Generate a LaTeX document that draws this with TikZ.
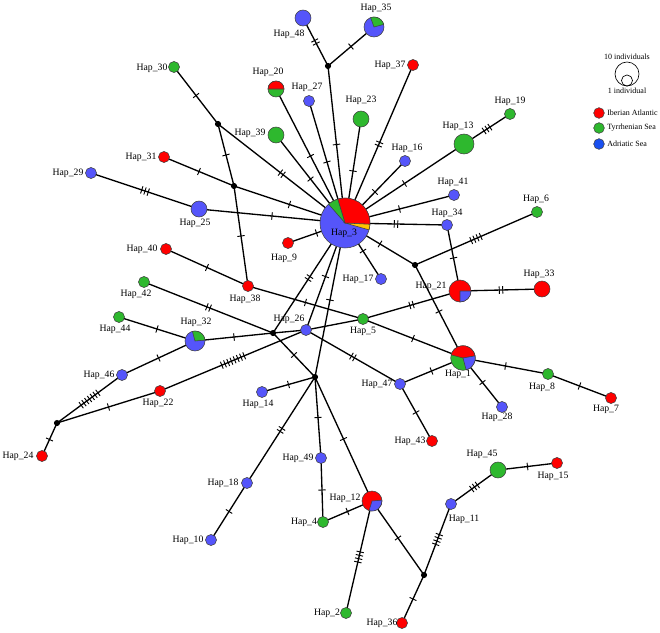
\documentclass[tikz,border=0pt]{standalone}
\usepackage{fontspec}
\setmainfont{Liberation Serif}
\usetikzlibrary{decorations.markings,backgrounds}

\definecolor{hapred}{RGB}{255,0,0}
\definecolor{hapgreen}{RGB}{46,184,46}
\definecolor{hapblue}{RGB}{85,85,250}
\definecolor{hapyellow}{RGB}{255,196,0}
\definecolor{legblue}{RGB}{25,80,240}

\tikzset{
    hap/.style={circle,draw=black!75,line width=0.4pt,inner sep=0pt,minimum size=#1},
    mv/.style={circle,fill=black,inner sep=0pt,minimum size=4.6pt},
    lab/.style={inner sep=0pt,font=\fontsize{7.3}{8}\selectfont},
    leg/.style={inner sep=0pt,font=\fontsize{6}{7}\selectfont},
    link/.style={line width=1pt},
    mut/.style={postaction={decorate,decoration={markings,mark=at position 0.5 with {
        \foreach \k in {1,...,#1}{\draw[line width=0.7pt] ({(\k-(#1+1)/2)*2.6pt},-2.8pt) -- ++(0pt,5.6pt);}}}}}
}

\begin{document}
\begin{tikzpicture}[x=0.75pt,y=-0.75pt,every node/.style={font=\fontsize{7.3}{8}\selectfont}]
\useasboundingbox (0,0) rectangle (660,632);
\def\one{8.3pt}
\def\two{12pt}
\def\three{15pt}

% Macro for haplotype circle and its label
\newcommand{\hapnode}[7]{
    \node[hap=#4,fill=#5] (h#1) at (#2,#3) {};
    \node[lab] (l#1) at (#6,#7) {Hap\_#1};
}
% Macro for one slice of a pie
\newcommand{\hapslice}[5]{
    \fill[#5,draw=black!75,line width=0.4pt] (h#1.center) -- ++(#3:#2) arc[start angle=#3,end angle=#4,radius=#2] -- cycle;
}

% Median vectors
\node[mv] (mv1) at (218,124) {};
\node[mv] (mv2) at (234,186) {};
\node[mv] (mv3) at (328,66) {};
\node[mv] (mv4) at (415,265) {};
\node[mv] (mv5) at (273,333) {};
\node[mv] (mv6) at (315,377) {};
\node[mv] (mv7) at (57,423) {};
\node[mv] (mv8) at (424,575) {};

% Single haplotypes
\hapnode{30}{174}{67}{\one}{hapgreen}{152}{68}
\hapnode{27}{309}{101}{\one}{hapblue}{307}{87}
\hapnode{31}{164}{157}{\one}{hapred}{141}{157}
\hapnode{29}{91}{173}{\one}{hapblue}{68}{173}
\hapnode{9}{288}{243}{\one}{hapred}{284}{258}
\hapnode{40}{166}{249}{\one}{hapred}{142}{249}
\hapnode{38}{248}{286}{\one}{hapred}{245}{299}
\hapnode{42}{144}{282}{\one}{hapgreen}{136}{294}
\hapnode{44}{119}{317}{\one}{hapgreen}{115}{329}
\hapnode{46}{122}{375}{\one}{hapblue}{99}{375}
\hapnode{22}{160}{391}{\one}{hapred}{158}{403}
\hapnode{14}{262}{392}{\one}{hapblue}{258}{404}
\hapnode{24}{42}{456}{\one}{hapred}{18}{456}
\hapnode{49}{321}{458}{\one}{hapblue}{298}{458}
\hapnode{18}{247}{483}{\one}{hapblue}{223}{483}
\hapnode{4}{323}{522}{\one}{hapgreen}{304}{522}
\hapnode{10}{211}{540}{\one}{hapblue}{188}{540}
\hapnode{5}{363}{319}{\one}{hapgreen}{363}{331}
\hapnode{47}{400}{384}{\one}{hapblue}{377}{384}
\hapnode{8}{548}{374}{\one}{hapgreen}{542}{387}
\hapnode{28}{502}{407}{\one}{hapblue}{497}{417}
\hapnode{7}{611}{398}{\one}{hapred}{606}{409}
\hapnode{43}{432}{441}{\one}{hapred}{410}{441}
\hapnode{15}{557}{463}{\one}{hapred}{553}{476}
\hapnode{11}{451}{504}{\one}{hapblue}{464}{519}
\hapnode{2}{346}{613}{\one}{hapgreen}{327}{613}
\hapnode{36}{402}{623}{\one}{hapred}{382}{623}
\hapnode{37}{413}{65}{\one}{hapred}{390}{65}
\hapnode{19}{510}{114}{\one}{hapgreen}{510}{101}
\hapnode{16}{405}{161}{\one}{hapblue}{407}{148}
\hapnode{41}{454}{195}{\one}{hapblue}{453}{182}
\hapnode{34}{447}{225}{\one}{hapblue}{447}{213}
\hapnode{6}{537}{212}{\one}{hapgreen}{536}{199}
\hapnode{17}{381}{279}{\one}{hapblue}{358}{279}
\hapnode{26}{306}{330}{\one}{hapblue}{289}{319}

% Bigger haplotypes
\hapnode{48}{303}{18}{\two}{hapblue}{289}{34}
\hapnode{39}{276}{135}{\two}{hapgreen}{250}{133}
\hapnode{25}{199}{209}{\two}{hapblue}{195}{223}
\hapnode{23}{361}{119}{\two}{hapgreen}{361}{100}
\hapnode{33}{542}{289}{\two}{hapred}{539}{274}
\hapnode{45}{498}{470}{\two}{hapgreen}{482}{454}
\hapnode{13}{464}{144}{\three}{hapgreen}{458}{126}

% Shared haplotypes (pies)
\hapnode{20}{276}{89}{\two}{hapgreen}{268}{72}
\hapslice{20}{6pt}{0}{180}{hapred}
\hapnode{35}{374}{27}{\three}{hapblue}{376}{8}
\hapslice{35}{7.5pt}{15}{110}{hapgreen}
\hapnode{32}{195}{341}{\three}{hapblue}{196}{322}
\hapslice{32}{7.5pt}{5}{105}{hapgreen}
\hapnode{12}{372}{501}{\three}{hapred}{345}{498}
\hapslice{12}{7.5pt}{-107}{5}{hapblue}
\hapnode{21}{460}{291}{16.5pt}{hapred}{431}{286}
\hapslice{21}{8.25pt}{-90}{0}{hapblue}
\hapnode{1}{463}{358}{18.5pt}{hapgreen}{458}{374}
\hapslice{1}{9.25pt}{10}{165}{hapred}
\hapslice{1}{9.25pt}{-75}{10}{hapblue}

% Central haplotype
\node[hap=37.5pt,fill=hapblue] (h3) at (345,223) {};
\hapslice{3}{18.75pt}{-3}{107}{hapred}
\hapslice{3}{18.75pt}{107}{131}{hapgreen}
\hapslice{3}{18.75pt}{-16}{-3}{hapyellow}
\node[lab] (l3) at (344,233) {Hap\_3};

% Links with mutation steps
\begin{scope}[on background layer]
\draw[link,mut=1] (h3.center) -- (mv3.center);
\draw[link,mut=2] (mv3.center) -- (h48.center);
\draw[link,mut=1] (mv3.center) -- (h35.center);
\draw[link,mut=1] (h3.center) -- (h20.center);
\draw[link,mut=1] (h3.center) -- (h27.center);
\draw[link,mut=1] (h3.center) -- (h23.center);
\draw[link,mut=2] (h3.center) -- (h37.center);
\draw[link,mut=1] (h3.center) -- (h16.center);
\draw[link,mut=1] (h3.center) -- (h13.center);
\draw[link,mut=3] (h13.center) -- (h19.center);
\draw[link,mut=1] (h3.center) -- (h41.center);
\draw[link,mut=2] (h3.center) -- (h34.center);
\draw[link,mut=1] (h3.center) -- (mv4.center);
\draw[link,mut=4] (mv4.center) -- (h6.center);
\draw[link,mut=1] (h34.center) -- (h21.center);
\draw[link,mut=1] (mv4.center) -- (h1.center);
\draw[link,mut=1] (h3.center) -- (h17.center);
\draw[link,mut=2] (h21.center) -- (h33.center);
\draw[link,mut=2] (h21.center) -- (h5.center);
\draw[link,mut=1] (h3.center) -- (h39.center);
\draw[link,mut=2] (h3.center) -- (mv1.center);
\draw[link,mut=1] (mv1.center) -- (h30.center);
\draw[link,mut=1] (mv1.center) -- (mv2.center);
\draw[link,mut=1] (mv2.center) -- (h38.center);
\draw[link,mut=1] (h31.center) -- (mv2.center);
\draw[link,mut=1] (mv2.center) -- (h3.center);
\draw[link,mut=3] (h29.center) -- (h25.center);
\draw[link,mut=1] (h25.center) -- (h3.center);
\draw[link,mut=1] (h9.center) -- (h3.center);
\draw[link,mut=1] (h40.center) -- (h38.center);
\draw[link,mut=1] (h38.center) -- (h5.center);
\draw[link,mut=1] (h5.center) -- (h1.center);
\draw[link,mut=2] (h42.center) -- (mv5.center);
\draw[link,mut=1] (mv5.center) -- (mv6.center);
\draw[link,mut=1] (h32.center) -- (mv5.center);
\draw[link] (mv5.center) -- (h26.center);
\draw[link,mut=2] (mv5.center) -- (h3.center);
\draw[link,mut=1] (h26.center) -- (h3.center);
\draw[link,mut=1] (mv6.center) -- (h3.center);
\draw[link] (h26.center) -- (h5.center);
\draw[link,mut=2] (h26.center) -- (h47.center);
\draw[link,mut=1] (h47.center) -- (h1.center);
\draw[link,mut=1] (h47.center) -- (h43.center);
\draw[link,mut=1] (h1.center) -- (h8.center);
\draw[link,mut=1] (h8.center) -- (h7.center);
\draw[link,mut=1] (h1.center) -- (h28.center);
\draw[link,mut=1] (h45.center) -- (h15.center);
\draw[link,mut=3] (h45.center) -- (h11.center);
\draw[link,mut=4] (h11.center) -- (mv8.center);
\draw[link,mut=1] (mv8.center) -- (h36.center);
\draw[link,mut=1] (h12.center) -- (mv8.center);
\draw[link,mut=4] (h12.center) -- (h2.center);
\draw[link,mut=1] (h12.center) -- (h4.center);
\draw[link,mut=1] (h49.center) -- (h4.center);
\draw[link,mut=1] (mv6.center) -- (h49.center);
\draw[link,mut=1] (mv6.center) -- (h12.center);
\draw[link,mut=2] (mv6.center) -- (h18.center);
\draw[link,mut=1] (h18.center) -- (h10.center);
\draw[link,mut=1] (mv6.center) -- (h14.center);
\draw[link,mut=1] (h44.center) -- (h32.center);
\draw[link,mut=1] (h32.center) -- (h46.center);
\draw[link,mut=7] (h46.center) -- (mv7.center);
\draw[link,mut=1] (mv7.center) -- (h22.center);
\draw[link,mut=8] (h22.center) -- (h26.center);
\draw[link,mut=1] (mv7.center) -- (h24.center);
\end{scope}

% Legend
\node[leg] (t10) at (627,57) {10 individuals};
\node[circle,draw,line width=0.5pt,inner sep=0pt,minimum size=18pt] (c10) at (627,74) {};
\node[circle,draw,line width=0.5pt,inner sep=0pt,minimum size=8.3pt] (c1) at (627,80.5) {};
\node[leg] (t1) at (627,91) {1 individual};
\node[hap=8pt,fill=hapred] (kred) at (599,113) {};
\node[leg,anchor=west] (tred) at (607,113) {Iberian Atlantic};
\node[hap=8pt,fill=hapgreen] (kgreen) at (599,128) {};
\node[leg,anchor=west] (tgreen) at (607,128) {Tyrrhenian Sea};
\node[hap=8pt,fill=legblue] (kblue) at (599,144) {};
\node[leg,anchor=west] (tblue) at (607,144) {Adriatic Sea};

\end{tikzpicture}
\end{document}
